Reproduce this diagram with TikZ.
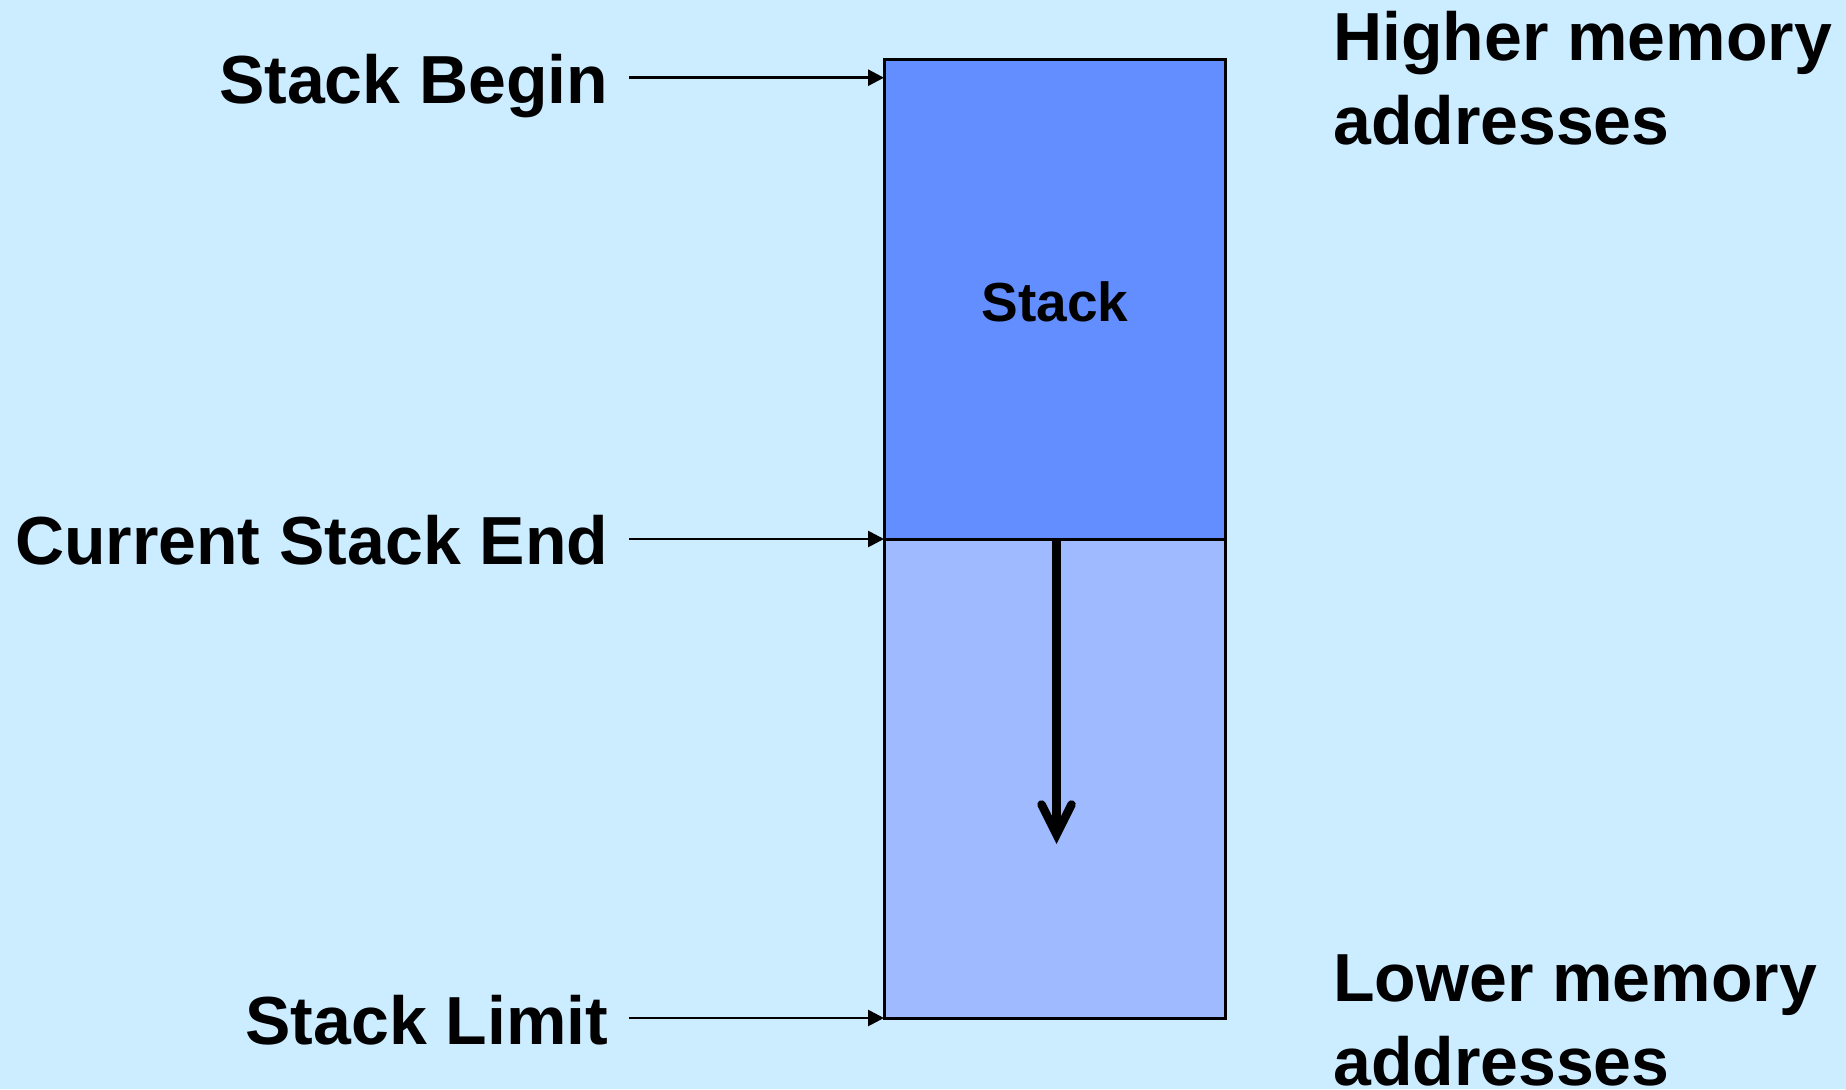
\documentclass[tikz,border=0pt]{standalone}
\usepackage{fontspec}
\setmainfont{Liberation Sans}
\usetikzlibrary{arrows.meta}
\definecolor{bg}{RGB}{204,236,255}
\definecolor{stacktop}{RGB}{99,142,255}
\definecolor{stackfree}{RGB}{160,186,255}
\tikzset{
  lbl/.style={font=\fontsize{68}{83}\selectfont\bfseries, inner sep=0pt},
  ptr/.style={line width=2.7pt, -{Triangle[length=16pt,width=16pt]}},
  growarrow/.style={line width=8.5pt, -{Straight Barb[length=30pt,width=30pt,line cap=round]}},
  region/.style={draw=black, line width=3pt}
}
\begin{document}
\begin{tikzpicture}[x=1pt,y=-1pt]
\fill[bg] (0,0) rectangle (1846,1089);
\useasboundingbox (0,0) rectangle (1846,1089);
% stack regions
\fill[stacktop] (884,60) rectangle (1225,539);
\fill[stackfree] (884,539) rectangle (1225,1018);
\draw[region] (884,60) rectangle (1225,1018);
\draw[region] (884,539) -- (1225,539);
\coordinate (top) at (884,77.7);
\coordinate (cur) at (884,539);
\coordinate (lim) at (884,1018);
\node[lbl, anchor=base] (stk) at (1055,321) {\fontsize{55}{66}\selectfont Stack};
% labels
\node[lbl, anchor=base east] (sb) at (608.5,103.5) {Stack Begin};
\node[lbl, anchor=base east] (cse) at (608.5,564) {Current Stack End};
\node[lbl, anchor=base east] (sl) at (608.5,1044) {Stack Limit};
\coordinate (sbs) at (629,77.7);
\coordinate (cses) at (629,539);
\coordinate (sls) at (629,1018);
\draw[ptr] (sbs) -- (top);
\draw[ptr] (cses) -- (cur);
\draw[ptr] (sls) -- (lim);
% growth arrow
\coordinate (g0) at (1056.5,539);
\coordinate (g1) at (1056.5,844);
\draw[growarrow] (g0) -- (g1);
% right side
\node[lbl, anchor=base west] (hi) at (1333,60.7) {Higher memory};
\node[lbl, anchor=base west] (hi2) at (1333,144) {addresses};
\node[lbl, anchor=base west] (lo) at (1333,1001.7) {Lower memory};
\node[lbl, anchor=base west] (lo2) at (1333,1085) {addresses};
\end{tikzpicture}
\end{document}
